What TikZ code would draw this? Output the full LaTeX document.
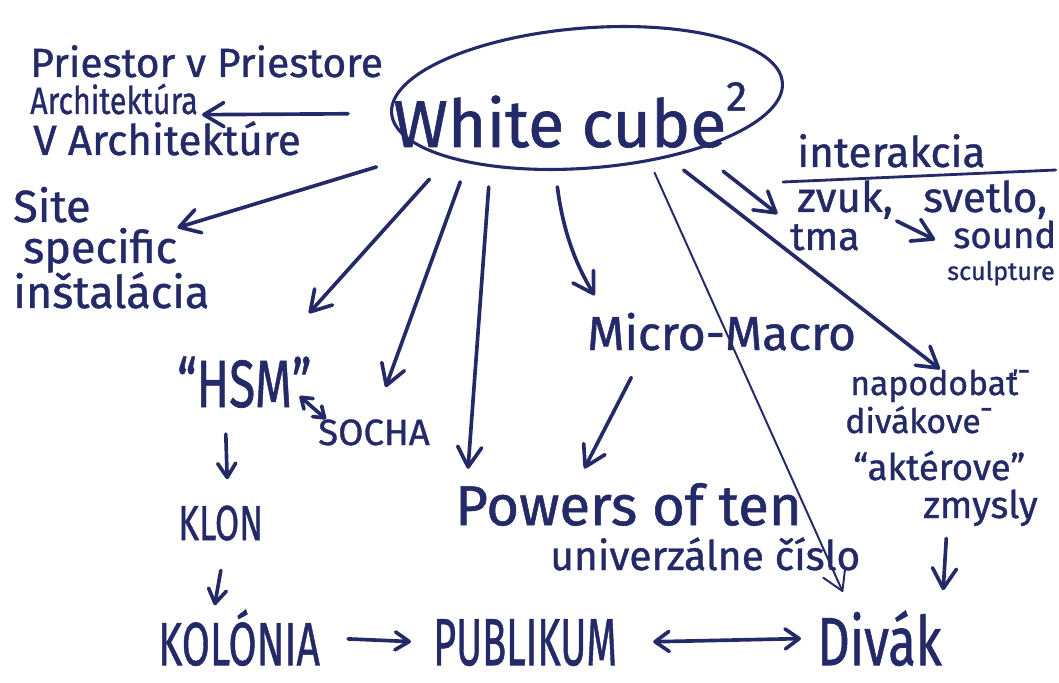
\documentclass[tikz,border=0pt]{standalone}
\usepackage{fontspec}
\usepackage{graphicx}
\setmainfont{Fira Sans}[FakeBold=1]
\usetikzlibrary{shapes.geometric,arrows.meta}
\definecolor{ink}{RGB}{36,42,104}

\begin{document}
\begin{tikzpicture}
	[
	x=1cm, y=1cm, >={Straight Barb[length=5mm,width=6mm,round]},
	%Voreinstellung für Stift und Schrift
	pen/.style={draw=ink, line width=2.6pt, line cap=round},
	thinpen/.style={draw=ink, line width=1.4pt, line cap=round},
	hand/.style={text=ink, inner sep=0pt, anchor=base west, font=\fontsize{#1}{#1}\selectfont}
	]
	
	\useasboundingbox (0,0) rectangle (26.475,17.05);
	
	%Ellipse in der Mitte
	\node[ellipse, draw=ink, line width=2.2pt, minimum width=9.8cm, minimum height=3.5cm, rotate=4.5] (cube) at (14.675,14.6) {};
	\node[hand=47] (cubetxt) at (9.825,13.375) {White cube\raisebox{0.55em}{\fontsize{30}{30}\selectfont 2}};
	
	%links oben
	\node[hand=29] (priestor) at (0.75,15.125) {Priestor v Priestore};
	\node[hand=27] (archit) at (0.75,14.2) {\scalebox{0.8}[1]{Architektúra}};
	\node[hand=30] (varchit) at (0.825,13.175) {V Architektúre};
	\node[hand=32] (site) at (0.325,11.5) {Site};
	\node[hand=32] (specific) at (0.575,10.475) {specific};
	\node[hand=32] (instal) at (0.325,9.35) {inštalácia};
	
	%links unten
	\node[hand=34] (hsm) at (4.425,6.875) {\scalebox{1}[1.4]{“HSM”}};
	\node[hand=26] (socha) at (7.95,5.925) {SOCHA};
	\node[hand=25] (klon) at (4.45,3.55) {\scalebox{1}[1.4]{KLON}};
	\node[hand=29] (kolonia) at (3.95,0.42) {\scalebox{1}[1.5]{KOLÓNIA}};
	\node[hand=28] (publikum) at (10.825,0.42) {\scalebox{1}[1.7]{PUBLIKUM}};
	\node[hand=36] (divak) at (20.425,0.42) {\scalebox{1}[1.35]{Divák}};
	
	%Mitte
	\node[hand=34] (micro) at (14.675,8.3) {Micro-Macro};
	\node[hand=40] (powers) at (11.375,3.92) {Powers of ten};
	\node[hand=29] (univ) at (13.75,2.8) {univerzálne číslo};
	
	%rechts
	\node[hand=30] (inter) at (19.925,12.875) {interakcia};
	\node[hand=30] (zvuk) at (19.925,11.75) {zvuk,};
	\node[hand=30] (svetlo) at (23.075,11.75) {svetlo,};
	\node[hand=28] (tma) at (19.75,10.8) {tma};
	\node[hand=26] (sound) at (23.825,10.85) {sound};
	\node[hand=18] (sculpt) at (23.675,10.05) {sculpture};
	\node[hand=24] (napod) at (21.25,7.175) {napodobať¯};
	\node[hand=24] (divakove) at (21.125,6.225) {divákove¯};
	\node[hand=26] (akter) at (21.325,5.05) {“aktérove”};
	\node[hand=27] (zmysly) at (23.075,4.1) {zmysly};
	
	%Unterstrich
	\draw[pen, line width=2pt] ([xshift=-3.5mm, yshift=-3.75mm]inter.base west) -- ([xshift=1.75cm, yshift=-0.75mm]inter.base east);
	
	%Pfeile vom White cube
	\draw[pen, ->, shorten <=1.05cm, shorten >=1mm] (cube.west) -- (archit.south east);
	\draw[pen, ->, shorten <=1.35cm] (cube.194) -- (specific.north east);
	\draw[pen, ->, shorten <=7mm, shorten >=1.45cm] (cube.199) -- (hsm.45);
	\draw[pen, ->, shorten <=5mm, shorten >=8.5mm] (cube.204) -- (socha.north);
	\draw[pen, ->, shorten <=5mm, shorten >=3.5mm] (cube.211) -- ([xshift=3mm]powers.north west);
	\draw[pen, ->, shorten <=4mm, shorten >=5mm] (cube.242) to[bend right=12] ([xshift=4.5mm]micro.north west);
	\draw[thinpen, ->, shorten <=3mm, shorten >=5mm] (cube.310) -- ([xshift=8.5mm]divak.north west);
	\draw[pen, ->, shorten <=5mm] (cube.319) -- (napod.north);
	\draw[pen, ->, shorten <=8.5mm, shorten >=4mm] (cube.330) -- (tma.north west);
	
	%weitere Pfeile
	\draw[pen, ->, shorten <=7.5mm, shorten >=4mm] ([xshift=1.45cm]micro.south west) -- ([xshift=3.05cm]powers.north west);
	\draw[pen, ->, shorten <=1mm, shorten >=5mm] (zvuk.south east) -- (sound.south west);
	\draw[pen, ->, shorten <=3mm, shorten >=5mm] ([xshift=6mm]zmysly.south west) -- (divak.north east);
	\draw[pen, {Straight Barb[length=2.5mm,width=3.5mm,round]}-{Straight Barb[length=2.5mm,width=3.5mm,round]}] ([xshift=-3mm, yshift=3mm]hsm.south east) -- ([xshift=2mm]socha.north west);
	\draw[pen, -{Straight Barb[length=3.5mm,width=4.5mm,round]}, shorten <=6.5mm, shorten >=6.5mm] ([xshift=1.2cm]hsm.south west) -- ([xshift=1.25cm]klon.north west);
	\draw[pen, -{Straight Barb[length=3.5mm,width=4.5mm,round]}, shorten <=7.5mm, shorten >=1mm] ([xshift=1.2cm]klon.south west) -- ([xshift=1.4cm]kolonia.north west);
	\draw[pen, -{Straight Barb[length=3.5mm,width=4.5mm,round]}, shorten <=7mm, shorten >=5.5mm] (kolonia.east) -- (publikum.west);
	\draw[pen, {Straight Barb[length=3.5mm,width=5mm,round]}-{Straight Barb[length=3.5mm,width=5mm,round]}, shorten <=9mm, shorten >=4mm] (publikum.east) -- (divak.west);
\end{tikzpicture}
\end{document}
